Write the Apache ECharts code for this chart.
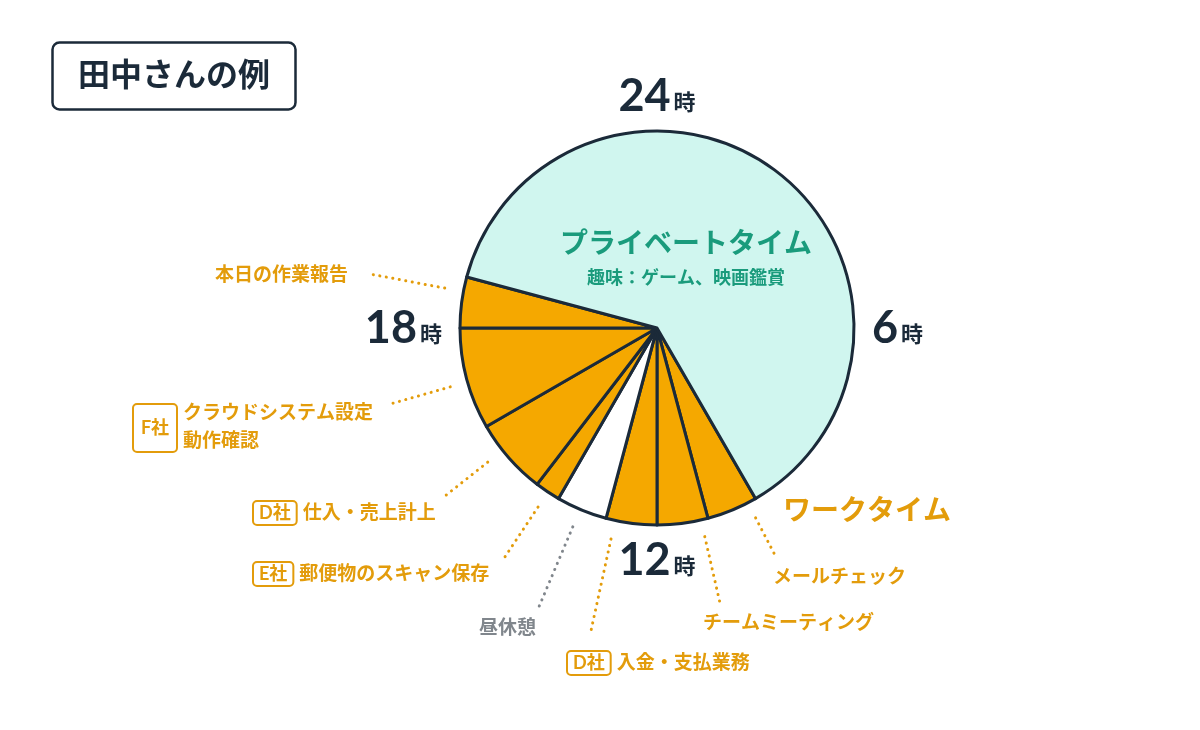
<!DOCTYPE html>
<html>
<head>
<meta charset="utf-8">
<title>田中さんの例</title>
<script src="https://cdn.jsdelivr.net/npm/echarts@6/dist/echarts.min.js"></script>
<style>
  html, body { margin: 0; padding: 0; background: #fff; }
  #chart { width: 1200px; height: 730px; }
</style>
</head>
<body>
<div id="chart"></div>
<script>
// 1日の時間割（10時から時計回り）
const tasks = ['メールチェック', 'チームミーティング', '入金・支払業務', '昼休憩', '郵便物のスキャン保存',
  '仕入・売上計上', 'クラウドシステム設定\n動作確認', '本日の作業報告', 'プライベートタイム'];
const companies = ['', '', 'D社', '', 'E社', 'D社', 'F社', '', ''];
const hours = [1, 1, 1, 1, 0.5, 1.5, 2, 1, 15];
const kinds = ['work', 'work', 'work', 'break', 'work', 'work', 'work', 'work', 'private'];
const privateNote = '趣味：ゲーム、映画鑑賞';
const workTitle = 'ワークタイム';
const chartTitle = '田中さんの例';
const startHour = 10;
const hourMax = 24;
const hourStep = 6;
const hourUnit = '時';

// 見た目
const NAVY = '#1b2a39';
const ORANGE = '#f5a800';
const ORANGE_TEXT = '#e39c0b';
const TEAL_FILL = '#d0f6ef';
const TEAL_TEXT = '#1a9b7c';
const GRAY = '#80868c';
const CX = 657, CY = 328, R = 197;
const FONT = "Lato, 'Noto Sans CJK JP', sans-serif";

// ラベル位置と引き出し線（時刻の角度、内側半径、外側半径）
const labelSpots = [
  { x: 773, y: 577, align: 'left' },
  { x: 703, y: 623, align: 'left' },
  { x: 567, y: 663, align: 'left' },
  { x: 479, y: 628, align: 'left' },
  { x: 253, y: 574, align: 'left' },
  { x: 253, y: 513, align: 'left' },
  { x: 183, y: 427, align: 'left' },
  { x: 215, y: 275, align: 'left' },
  { x: 686, y: 261, align: 'center' }
];
const leaders = [
  { h: 10.17, r1: 214, r2: 258 },
  { h: 11.14, r1: 214, r2: 281 },
  { h: 12.82, r1: 216, r2: 315 },
  { h: 13.53, r1: 216, r2: 302 },
  { h: 14.24, r1: 215, r2: 275 },
  { h: 15.44, r1: 216, r2: 273 },
  { h: 16.94, r1: 215, r2: 281 },
  { h: 18.71, r1: 216, r2: 289 },
  null
];

function clockPoint(h, r) {
  const a = h / hourMax * Math.PI * 2;
  return [CX + r * Math.sin(a), CY - r * Math.cos(a)];
}

function labelText(i) {
  const lines = tasks[i].split('\n');
  if (kinds[i] === 'private') return '{pt|' + tasks[i] + '}\n{ps|' + privateNote + '}';
  if (kinds[i] === 'break') return '{brk|' + tasks[i] + '}';
  const body = lines.map(l => '{txt|' + l + '}').join('\n');
  if (companies[i] && lines.length === 1) return '{tag|' + companies[i] + '}{gap| }' + body;
  return body;
}

const fills = { work: ORANGE, break: '#ffffff', private: TEAL_FILL };

const pieData = tasks.map((name, i) => {
  const item = {
    name: name,
    value: hours[i],
    itemStyle: { color: fills[kinds[i]] }
  };
  if (kinds[i] === 'private') item.labelLine = { show: false };
  if (kinds[i] === 'break') item.labelLine = { lineStyle: { color: GRAY } };
  return item;
});

// 2行ラベルの会社タグ（F社）
const tagGraphics = [];
tasks.forEach((t, i) => {
  if (companies[i] && t.indexOf('\n') >= 0) {
    const s = labelSpots[i];
    tagGraphics.push({
      type: 'group',
      x: s.x - 50,
      y: s.y - 23,
      children: [
        { type: 'rect', shape: { x: 0, y: 0, width: 44, height: 48, r: 4 },
          style: { fill: 'none', stroke: ORANGE_TEXT, lineWidth: 2 } },
        { type: 'text', x: 22, y: 24,
          style: { text: companies[i], fill: ORANGE_TEXT, font: 'bold 18px ' + FONT,
                   align: 'center', verticalAlign: 'middle' } }
      ]
    });
  }
});

const chart = echarts.init(document.getElementById('chart'));

chart.setOption({
  animation: false,
  backgroundColor: '#ffffff',
  textStyle: { fontFamily: FONT },
  title: {
    text: chartTitle,
    left: 52,
    top: 42,
    padding: [16, 26],
    borderColor: NAVY,
    borderWidth: 2.5,
    borderRadius: 7,
    textStyle: { color: NAVY, fontSize: 32, fontWeight: 'bold', lineHeight: 36, fontFamily: FONT }
  },
  polar: { center: [CX, CY], radius: R },
  radiusAxis: { show: false, min: 0, max: 1 },
  angleAxis: {
    type: 'value',
    min: 0,
    max: hourMax,
    interval: hourStep,
    startAngle: 90,
    clockwise: true,
    axisLine: { show: false },
    axisTick: { show: false },
    splitLine: { show: false },
    axisLabel: {
      margin: 18,
      formatter: v => (v === hourMax ? '' : '{n|' + (v === 0 ? hourMax : v) + '}{u|' + hourUnit + '}'),
      rich: {
        n: { fontSize: 45, fontWeight: 'bold', color: NAVY, fontFamily: 'Lato', lineHeight: 34 },
        u: { fontSize: 22, fontWeight: 'bold', color: NAVY, fontFamily: 'Noto Sans CJK JP',
             lineHeight: 22, padding: [12, 0, 0, 3] }
      }
    }
  },
  graphic: [
    {
      type: 'text',
      left: 783,
      top: 497,
      style: { text: workTitle, fill: ORANGE_TEXT, font: 'bold 28px ' + FONT }
    }
  ].concat(tagGraphics),
  series: [{
    type: 'pie',
    center: [CX, CY],
    radius: R,
    startAngle: 90 - startHour * 360 / hourMax,
    clockwise: true,
    sort: false,
    avoidLabelOverlap: false,
    emphasis: { disabled: true },
    itemStyle: { borderColor: NAVY, borderWidth: 3, borderJoin: 'round' },
    data: pieData,
    label: {
      show: true,
      position: 'outside',
      formatter: p => labelText(p.dataIndex),
      rich: {
        txt: { fontSize: 19, fontWeight: 'bold', color: ORANGE_TEXT, lineHeight: 28 },
        tag: { fontSize: 18, fontWeight: 'bold', color: ORANGE_TEXT, lineHeight: 20,
               borderColor: ORANGE_TEXT, borderWidth: 2, borderRadius: 4, padding: [3, 6, 3, 6] },
        gap: { width: 6 },
        brk: { fontSize: 19, fontWeight: 'bold', color: GRAY, lineHeight: 28 },
        pt: { fontSize: 28, fontWeight: 'bold', color: TEAL_TEXT, lineHeight: 34 },
        ps: { fontSize: 18, fontWeight: 'bold', color: TEAL_TEXT, lineHeight: 34 }
      }
    },
    labelLine: {
      show: true,
      length: 10,
      length2: 10,
      lineStyle: { color: ORANGE_TEXT, width: 3, type: [0.1, 6.5], cap: 'round' }
    },
    labelLayout: params => {
      const i = params.dataIndex;
      const s = labelSpots[i];
      const out = { x: s.x, y: s.y, align: s.align, verticalAlign: 'middle' };
      const ld = leaders[i];
      if (ld) out.labelLinePoints = [clockPoint(ld.h, ld.r1), clockPoint(ld.h, ld.r2)];
      return out;
    }
  }]
});
</script>
</body>
</html>
